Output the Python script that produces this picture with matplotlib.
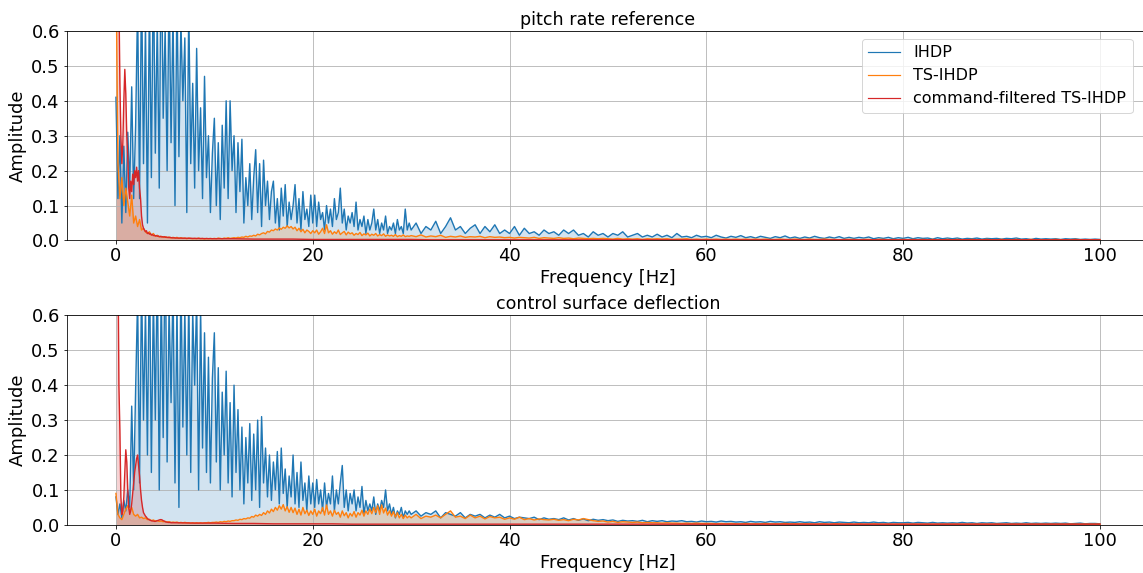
import numpy as np
import matplotlib
matplotlib.use("Agg")
import matplotlib.pyplot as plt

# frequency grids: 0.2 Hz up to 30 Hz, 0.5 Hz above; the red series uses 0.1 Hz up to 6 Hz, then 2 Hz
freq = np.concatenate([np.arange(0, 30, 0.2), np.arange(30, 100.01, 0.5)])
freq_cf = np.concatenate([np.arange(0, 6, 0.1), np.arange(6, 100.01, 2.0)])

# ---- pitch rate reference ----
pitch_ihdp = [
    0.41, 0.12, 0.30, 0.05, 0.27, 0.08, 0.31, 0.15, 0.44, 0.12,   # 0
    0.33, 0.68, 0.12, 0.75, 0.22, 0.62, 0.05, 0.70, 0.18, 0.80,   # 2
    0.25, 0.64, 0.15, 0.90, 0.35, 0.61, 0.20, 0.75, 0.28, 0.66,   # 4
    0.10, 0.72, 0.24, 0.63, 0.40, 0.58, 0.08, 0.67, 0.22, 0.45,   # 6
    0.15, 0.55, 0.20, 0.38, 0.12, 0.47, 0.18, 0.30, 0.08, 0.25,   # 8
    0.35, 0.10, 0.28, 0.06, 0.33, 0.15, 0.40, 0.12, 0.40, 0.20,   # 10
    0.30, 0.08, 0.28, 0.14, 0.29, 0.05, 0.18, 0.10, 0.22, 0.06,   # 12
    0.18, 0.26, 0.08, 0.22, 0.04, 0.23, 0.10, 0.17, 0.06, 0.14,   # 14
    0.17, 0.05, 0.12, 0.03, 0.15, 0.07, 0.16, 0.04, 0.11, 0.06,   # 16
    0.10, 0.16, 0.05, 0.12, 0.03, 0.14, 0.06, 0.09, 0.04, 0.13,   # 18
    0.05, 0.13, 0.04, 0.11, 0.06, 0.08, 0.03, 0.10, 0.05, 0.09,   # 20
    0.04, 0.12, 0.06, 0.08, 0.15, 0.05, 0.09, 0.03, 0.07, 0.05,   # 22
    0.08, 0.04, 0.11, 0.03, 0.06, 0.04, 0.07, 0.02, 0.06, 0.03,   # 24
    0.05, 0.09, 0.03, 0.06, 0.02, 0.05, 0.03, 0.07, 0.02, 0.04,   # 26
    0.03, 0.05, 0.02, 0.06, 0.03, 0.04, 0.02, 0.09, 0.03, 0.05,   # 28
    0.03, 0.05, 0.02, 0.04, 0.03, 0.055, 0.02, 0.04, 0.065, 0.03,  # 30
    0.04, 0.02, 0.035, 0.045, 0.02, 0.04, 0.025, 0.045, 0.02, 0.03,  # 35
    0.02, 0.04, 0.015, 0.035, 0.02, 0.025, 0.015, 0.03, 0.02, 0.025,  # 40
    0.015, 0.03, 0.02, 0.03, 0.015, 0.02, 0.01, 0.025, 0.015, 0.02,  # 45
    0.01, 0.02, 0.015, 0.025, 0.01, 0.015, 0.02, 0.01, 0.015, 0.01,  # 50
    0.018, 0.01, 0.015, 0.008, 0.02, 0.01, 0.012, 0.008, 0.015, 0.01,  # 55
    0.012, 0.008, 0.015, 0.01, 0.007, 0.012, 0.009, 0.014, 0.008, 0.011,  # 60
    0.007, 0.012, 0.009, 0.006, 0.011, 0.008, 0.013, 0.007, 0.01, 0.006,  # 65
    0.01, 0.007, 0.012, 0.008, 0.006, 0.01, 0.007, 0.011, 0.006, 0.009,  # 70
    0.006, 0.009, 0.007, 0.01, 0.005, 0.008, 0.006, 0.009, 0.005, 0.008,  # 75
    0.006, 0.009, 0.005, 0.008, 0.006, 0.007, 0.004, 0.008, 0.005, 0.007,  # 80
    0.005, 0.007, 0.004, 0.006, 0.005, 0.007, 0.004, 0.006, 0.005, 0.006,  # 85
    0.004, 0.006, 0.005, 0.007, 0.004, 0.005, 0.003, 0.006, 0.004, 0.005,  # 90
    0.004, 0.005, 0.003, 0.005, 0.004, 0.005, 0.003, 0.004, 0.003, 0.004,  # 95
    0.003,
]
pitch_ts = [
    0.80, 0.22, 0.12, 0.18, 0.10, 0.15, 0.11, 0.07, 0.13, 0.05,
    0.07, 0.04, 0.06, 0.03, 0.035, 0.025, 0.02, 0.025, 0.015, 0.02,
    0.012, 0.015, 0.01, 0.012, 0.009, 0.011, 0.008, 0.01, 0.007, 0.009,
    0.007, 0.009, 0.006, 0.008, 0.006, 0.007, 0.005, 0.007, 0.006, 0.005,
    0.006, 0.005, 0.007, 0.005, 0.006, 0.004, 0.006, 0.005, 0.006, 0.005,
    0.006, 0.005, 0.007, 0.006, 0.005, 0.007, 0.006, 0.008, 0.006, 0.007,
    0.008, 0.007, 0.009, 0.008, 0.01, 0.009, 0.012, 0.01, 0.013, 0.012,
    0.015, 0.013, 0.018, 0.016, 0.02, 0.022, 0.019, 0.026, 0.024, 0.03,
    0.028, 0.033, 0.03, 0.036, 0.032, 0.038, 0.035, 0.042, 0.036, 0.04,
    0.033, 0.038, 0.028, 0.035, 0.025, 0.032, 0.022, 0.03, 0.026, 0.02,
    0.028, 0.022, 0.03, 0.018, 0.025, 0.035, 0.02, 0.045, 0.022, 0.028,
    0.018, 0.025, 0.02, 0.03, 0.017, 0.022, 0.026, 0.016, 0.024, 0.019,
    0.022, 0.015, 0.02, 0.017, 0.023, 0.014, 0.019, 0.016, 0.021, 0.013,
    0.018, 0.015, 0.02, 0.013, 0.017, 0.014, 0.019, 0.012, 0.016, 0.013,
    0.015, 0.012, 0.017, 0.011, 0.014, 0.012, 0.016, 0.011, 0.013, 0.012,
    0.014, 0.011, 0.016, 0.01, 0.013, 0.011, 0.015, 0.009, 0.012, 0.01,
    0.013, 0.009, 0.011, 0.01, 0.012, 0.008, 0.011, 0.009, 0.01, 0.008,
    0.009, 0.007, 0.009, 0.008, 0.007, 0.009, 0.006, 0.008, 0.007, 0.006,
    0.008, 0.006, 0.007, 0.005, 0.007, 0.006, 0.005, 0.006, 0.005, 0.006,
    0.005, 0.004, 0.006, 0.004, 0.005, 0.004, 0.005, 0.003, 0.005, 0.004,
    0.005, 0.004, 0.005, 0.003, 0.004, 0.004, 0.005, 0.003, 0.004, 0.003,
    0.004, 0.003, 0.004, 0.003, 0.004, 0.003, 0.004, 0.003, 0.004, 0.003,
    0.004, 0.003, 0.004, 0.003, 0.003, 0.004, 0.003, 0.003, 0.004, 0.003,
    0.003, 0.004, 0.003, 0.003, 0.004, 0.003, 0.003, 0.002, 0.003, 0.003,
    0.003, 0.002, 0.003, 0.003, 0.002, 0.003, 0.003, 0.002, 0.003, 0.002,
    0.003, 0.002, 0.003, 0.002, 0.003, 0.002, 0.003, 0.002, 0.002, 0.003,
    0.002, 0.003, 0.002, 0.002, 0.003, 0.002, 0.002, 0.003, 0.002, 0.002,
    0.003, 0.002, 0.002, 0.003, 0.002, 0.002, 0.003, 0.002, 0.002, 0.002,
    0.002, 0.003, 0.002, 0.002, 0.002, 0.003, 0.002, 0.002, 0.002, 0.002,
    0.002,
]
pitch_cf = [
    0.95, 0.85, 0.65, 0.70, 0.45, 0.30, 0.22, 0.28, 0.40, 0.49,
    0.42, 0.30, 0.24, 0.15, 0.12, 0.17, 0.14, 0.19, 0.16, 0.20,
    0.18, 0.21, 0.17, 0.20, 0.15, 0.12, 0.07, 0.045, 0.035, 0.03,
    0.025, 0.028, 0.02, 0.022, 0.018, 0.02, 0.016, 0.017, 0.014, 0.015,
    0.013, 0.014, 0.012, 0.013, 0.011, 0.012, 0.01, 0.011, 0.01, 0.011,
    0.009, 0.01, 0.009, 0.009, 0.008, 0.009, 0.008, 0.008, 0.007, 0.008,
    0.007, 0.006, 0.005, 0.005, 0.004, 0.004, 0.004, 0.003, 0.003, 0.003,
    0.003, 0.003, 0.003, 0.002, 0.002, 0.002, 0.002, 0.002, 0.002, 0.002,
    0.002, 0.002, 0.002, 0.002, 0.002, 0.002, 0.002, 0.002, 0.002, 0.002,
    0.002, 0.002, 0.002, 0.002, 0.002, 0.002, 0.002, 0.002, 0.002, 0.002,
    0.002, 0.002, 0.002, 0.002, 0.002, 0.002, 0.002, 0.002,
]

# ---- control surface deflection ----
defl_ihdp = [
    0.08, 0.03, 0.06, 0.02, 0.07, 0.04, 0.10, 0.05, 0.34, 0.10,
    0.39, 0.65, 0.12, 0.70, 0.30, 0.62, 0.20, 0.80, 0.15, 0.66,
    0.30, 0.75, 0.10, 0.68, 0.25, 0.85, 0.18, 0.63, 0.35, 0.70,
    0.12, 0.64, 0.05, 0.72, 0.28, 0.62, 0.20, 0.66, 0.15, 0.61,
    0.40, 0.65, 0.10, 0.62, 0.22, 0.55, 0.15, 0.48, 0.12, 0.42,
    0.55, 0.18, 0.45, 0.10, 0.38, 0.20, 0.44, 0.12, 0.35, 0.08,
    0.40, 0.15, 0.33, 0.10, 0.28, 0.06, 0.25, 0.12, 0.29, 0.07,
    0.26, 0.10, 0.30, 0.05, 0.31, 0.12, 0.22, 0.08, 0.20, 0.07,
    0.18, 0.10, 0.21, 0.06, 0.22, 0.09, 0.16, 0.05, 0.14, 0.08,
    0.20, 0.06, 0.15, 0.05, 0.18, 0.07, 0.12, 0.04, 0.14, 0.06,
    0.12, 0.05, 0.13, 0.06, 0.10, 0.04, 0.12, 0.05, 0.09, 0.06,
    0.14, 0.04, 0.10, 0.06, 0.12, 0.17, 0.05, 0.10, 0.04, 0.09,
    0.06, 0.10, 0.04, 0.08, 0.05, 0.11, 0.03, 0.07, 0.04, 0.06,
    0.04, 0.08, 0.03, 0.06, 0.04, 0.07, 0.05, 0.10, 0.04, 0.06,
    0.03, 0.05, 0.02, 0.04, 0.03, 0.05, 0.02, 0.04, 0.03, 0.04,
    0.03, 0.04, 0.025, 0.035, 0.03, 0.04, 0.02, 0.035, 0.03, 0.025,
    0.035, 0.02, 0.03, 0.025, 0.03, 0.02, 0.028, 0.022, 0.03, 0.02,
    0.025, 0.018, 0.022, 0.02, 0.018, 0.022, 0.015, 0.02, 0.016, 0.018,
    0.015, 0.02, 0.014, 0.018, 0.013, 0.017, 0.012, 0.016, 0.013, 0.015,
    0.012, 0.014, 0.01, 0.013, 0.011, 0.012, 0.01, 0.013, 0.009, 0.012,
    0.01, 0.012, 0.009, 0.011, 0.01, 0.012, 0.009, 0.01, 0.008, 0.011,
    0.009, 0.01, 0.008, 0.011, 0.009, 0.01, 0.008, 0.009, 0.007, 0.01,
    0.008, 0.009, 0.007, 0.01, 0.008, 0.009, 0.007, 0.008, 0.007, 0.009,
    0.007, 0.008, 0.006, 0.009, 0.007, 0.008, 0.006, 0.008, 0.007, 0.006,
    0.008, 0.006, 0.007, 0.006, 0.008, 0.006, 0.007, 0.005, 0.007, 0.006,
    0.006, 0.007, 0.005, 0.007, 0.006, 0.005, 0.007, 0.005, 0.006, 0.005,
    0.006, 0.005, 0.007, 0.005, 0.006, 0.004, 0.006, 0.005, 0.006, 0.004,
    0.005, 0.006, 0.004, 0.005, 0.004, 0.006, 0.004, 0.005, 0.004, 0.005,
    0.004, 0.005, 0.004, 0.005, 0.003, 0.004, 0.005, 0.003, 0.004, 0.004,
    0.003,
]
defl_ts = [
    0.09, 0.03, 0.02, 0.015, 0.03, 0.045, 0.055, 0.04, 0.05, 0.03,
    0.025, 0.03, 0.02, 0.022, 0.018, 0.02, 0.015, 0.016, 0.012, 0.014,
    0.011, 0.012, 0.01, 0.011, 0.009, 0.01, 0.008, 0.009, 0.007, 0.008,
    0.007, 0.008, 0.006, 0.007, 0.006, 0.007, 0.006, 0.006, 0.005, 0.006,
    0.005, 0.006, 0.005, 0.006, 0.005, 0.006, 0.006, 0.007, 0.006, 0.007,
    0.007, 0.008, 0.007, 0.009, 0.008, 0.01, 0.009, 0.011, 0.01, 0.012,
    0.012, 0.014, 0.013, 0.016, 0.015, 0.018, 0.017, 0.02, 0.019, 0.024,
    0.022, 0.028, 0.025, 0.03, 0.027, 0.035, 0.03, 0.04, 0.034, 0.045,
    0.038, 0.05, 0.042, 0.055, 0.045, 0.058, 0.04, 0.052, 0.036, 0.05,
    0.035, 0.048, 0.03, 0.045, 0.028, 0.05, 0.032, 0.042, 0.027, 0.04,
    0.03, 0.045, 0.025, 0.04, 0.032, 0.05, 0.028, 0.057, 0.03, 0.04,
    0.025, 0.042, 0.03, 0.036, 0.022, 0.04, 0.026, 0.035, 0.02, 0.033,
    0.025, 0.038, 0.022, 0.035, 0.028, 0.042, 0.025, 0.04, 0.03, 0.045,
    0.032, 0.05, 0.035, 0.055, 0.03, 0.057, 0.034, 0.048, 0.028, 0.04,
    0.025, 0.038, 0.022, 0.035, 0.02, 0.03, 0.018, 0.028, 0.02, 0.025,
    0.02, 0.03, 0.018, 0.025, 0.022, 0.028, 0.02, 0.03, 0.04, 0.022,
    0.025, 0.018, 0.028, 0.02, 0.025, 0.017, 0.024, 0.02, 0.022, 0.016,
    0.02, 0.016, 0.022, 0.015, 0.018, 0.014, 0.017, 0.015, 0.014, 0.016,
    0.013, 0.015, 0.012, 0.016, 0.014, 0.018, 0.015, 0.012, 0.01, 0.011,
    0.008, 0.01, 0.007, 0.009, 0.008, 0.007, 0.008, 0.006, 0.007, 0.006,
    0.006, 0.005, 0.006, 0.005, 0.005, 0.004, 0.005, 0.004, 0.005, 0.004,
    0.004, 0.004, 0.003, 0.004, 0.003, 0.004, 0.003, 0.003, 0.004, 0.003,
    0.003, 0.003, 0.004, 0.003, 0.003, 0.003, 0.004, 0.003, 0.003, 0.003,
    0.003, 0.003, 0.002, 0.003, 0.003, 0.002, 0.003, 0.003, 0.002, 0.003,
    0.002, 0.003, 0.002, 0.002, 0.003, 0.002, 0.002, 0.002, 0.002, 0.002,
    0.002, 0.002, 0.002, 0.002, 0.002, 0.002, 0.002, 0.002, 0.002, 0.002,
    0.002, 0.002, 0.002, 0.002, 0.002, 0.002, 0.002, 0.002, 0.002, 0.002,
    0.002, 0.002, 0.002, 0.002, 0.002, 0.002, 0.002, 0.002, 0.002, 0.002,
    0.002, 0.002, 0.002, 0.002, 0.002, 0.002, 0.002, 0.002, 0.002, 0.002,
    0.002,
]
defl_cf = [
    0.95, 0.90, 0.80, 0.40, 0.27, 0.08, 0.03, 0.04, 0.08, 0.15,
    0.215, 0.18, 0.10, 0.05, 0.03, 0.04, 0.06, 0.09, 0.12, 0.15,
    0.17, 0.19, 0.20, 0.17, 0.14, 0.10, 0.07, 0.05, 0.035, 0.03,
    0.025, 0.022, 0.018, 0.016, 0.014, 0.013, 0.012, 0.011, 0.011, 0.01,
    0.01, 0.011, 0.012, 0.013, 0.014, 0.015, 0.015, 0.014, 0.012, 0.011,
    0.009, 0.008, 0.008, 0.007, 0.007, 0.007, 0.006, 0.006, 0.006, 0.006,
    0.006, 0.005, 0.005, 0.004, 0.004, 0.003, 0.003, 0.003, 0.003, 0.002,
    0.002, 0.002, 0.002, 0.002, 0.002, 0.002, 0.002, 0.002, 0.002, 0.002,
    0.002, 0.002, 0.002, 0.002, 0.002, 0.002, 0.002, 0.002, 0.002, 0.002,
    0.002, 0.002, 0.002, 0.002, 0.002, 0.002, 0.002, 0.002, 0.002, 0.002,
    0.002, 0.002, 0.002, 0.002, 0.002, 0.002, 0.002, 0.002,
]

labels = ["IHDP", "TS-IHDP", "command-filtered TS-IHDP"]
colors = ["tab:blue", "tab:orange", "tab:red"]
yticks = [0.0, 0.1, 0.2, 0.3, 0.4, 0.5, 0.6]


def draw_panel(ax, title, ihdp, ts, cf):
    series = [(freq, ihdp), (freq, ts), (freq_cf, cf)]
    for (f, amp), lab, col in zip(series, labels, colors):
        ax.fill_between(f, amp, color=col, alpha=0.2, lw=0)
        ax.plot(f, amp, color=col, lw=1.4, label=lab)
    ax.set_ylim(0, 0.6)
    ax.set_yticks(yticks)
    ax.set_title(title, fontsize=17.5)
    ax.set_xlabel("Frequency [Hz]", fontsize=18)
    ax.set_ylabel("Amplitude", fontsize=18)
    ax.tick_params(axis='both', which='major', labelsize=18)
    ax.grid(True)


# figure drawn at 72 dpi so the sizes in points map 1:1 to pixels
fig, (ax1, ax2) = plt.subplots(2, 1, figsize=(1143 / 72, 573 / 72), dpi=72)
draw_panel(ax1, "pitch rate reference", pitch_ihdp, pitch_ts, pitch_cf)
draw_panel(ax2, "control surface deflection", defl_ihdp, defl_ts, defl_cf)
leg = ax1.legend(loc="upper right", fontsize=16, bbox_to_anchor=(0.992, 1.0))
for line in leg.get_lines():
    line.set_linewidth(1.2)

# the right edge of the axes runs just past the image, as in the reference
fig.subplots_adjust(left=0.0584, right=1.0054, top=0.946, bottom=0.084, hspace=0.357)
fig.savefig("out.png", dpi=72)
